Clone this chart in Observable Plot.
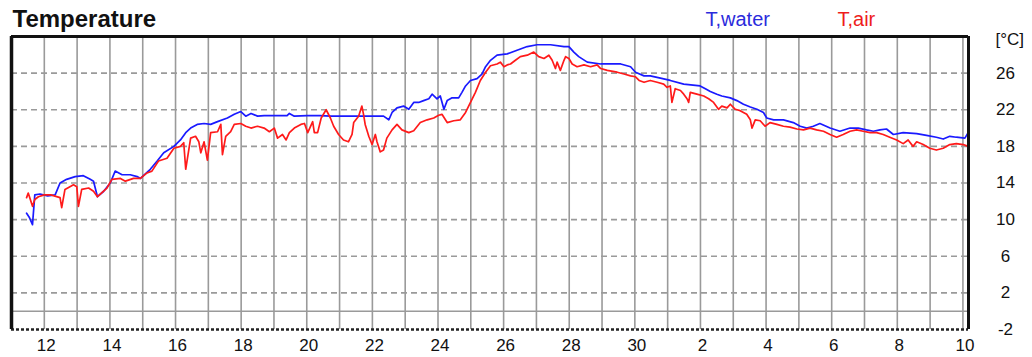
<!DOCTYPE html>
<html>
<head>
<meta charset="utf-8">
<script src="https://cdn.jsdelivr.net/npm/d3@7"></script>
<script src="https://cdn.jsdelivr.net/npm/@observablehq/plot@0.6"></script>
<style>
  html, body { margin: 0; padding: 0; background: #fff; }
  #chart { width: 1032px; height: 357px; }
</style>
</head>
<body>
<div id="chart"></div>
<script>
// Day numbers counted from June 1 (values above 30 continue into July)
const waterDay = [11.46,11.55,11.64,11.71,11.87,12.10,12.33,12.48,12.68,12.94,13.19,13.40,13.50,13.62,13.81,14.01,14.16,14.37,14.62,14.83,14.93,15.23,15.44,15.64,15.95,16.15,16.31,16.46,16.66,16.87,17.07,17.28,17.58,17.79,17.99,18.14,18.30,18.50,18.70,19.00,19.40,19.47,19.62,20.00,20.40,20.74,21.00,21.50,22.00,22.34,22.50,22.60,22.75,22.95,23.11,23.26,23.41,23.56,23.72,23.82,23.97,24.07,24.18,24.28,24.43,24.63,24.73,24.84,24.99,25.19,25.34,25.45,25.60,25.80,26.11,26.41,26.72,27.02,27.43,27.84,27.99,28.14,28.29,28.55,28.96,29.57,29.87,30.02,30.28,30.47,30.78,31.08,31.49,31.99,32.15,32.30,32.50,32.65,32.91,33.11,33.31,33.52,33.72,33.92,34.02,34.23,34.53,34.83,35.04,35.24,35.44,35.64,35.95,36.25,36.56,36.81,37.06,37.27,37.47,37.67,37.88,38.18,38.59,38.89,39.19,39.40,39.60,39.80,40.06,40.16];
const waterTemp = [10.7,10.2,9.45,12.7,12.8,12.6,12.7,14.0,14.4,14.7,14.8,14.4,14.2,12.5,13.1,14.0,15.3,14.9,14.9,14.7,14.5,15.5,16.4,17.3,18.0,18.7,19.5,20.0,20.4,20.5,20.4,20.7,21.1,21.5,21.8,21.3,21.6,21.3,21.35,21.35,21.35,21.6,21.3,21.35,21.35,21.3,21.3,21.3,21.3,21.3,20.9,21.7,22.2,22.4,22.05,22.8,22.8,23.0,23.2,23.7,23.2,23.5,22.05,23.0,23.3,23.3,23.9,24.6,25.2,25.4,25.9,26.7,27.4,27.96,28.1,28.5,28.9,29.1,29.1,28.9,28.9,28.3,27.8,27.2,27.0,27.0,26.7,26.1,25.7,25.7,25.45,25.2,24.8,24.6,24.3,24.0,23.7,23.5,23.3,23.0,22.6,22.3,22.05,21.7,21.1,20.9,20.9,20.6,20.2,20.0,20.2,20.5,20.0,19.65,20.0,20.0,19.8,19.65,19.8,19.9,19.3,19.5,19.4,19.2,19.0,18.8,19.1,19.0,18.9,19.5];

const airDay = [11.46,11.51,11.64,11.71,11.82,12.00,12.20,12.48,12.53,12.63,12.89,12.99,13.04,13.14,13.35,13.50,13.62,13.91,14.06,14.32,14.47,14.72,14.93,15.13,15.28,15.48,15.74,15.95,16.15,16.25,16.31,16.46,16.61,16.71,16.77,16.87,16.97,17.07,17.28,17.38,17.43,17.53,17.68,17.79,17.99,18.14,18.30,18.50,18.70,18.86,19.01,19.11,19.26,19.37,19.47,19.62,19.82,19.93,20.03,20.18,20.23,20.33,20.44,20.59,20.72,20.82,20.97,21.12,21.27,21.38,21.43,21.58,21.68,21.73,21.78,21.89,21.99,22.09,22.14,22.24,22.34,22.44,22.60,22.75,22.90,23.11,23.26,23.46,23.67,23.87,24.02,24.12,24.28,24.48,24.68,24.84,24.99,25.14,25.29,25.45,25.60,25.80,25.90,26.01,26.11,26.21,26.36,26.51,26.72,26.92,27.07,27.23,27.38,27.48,27.58,27.63,27.73,27.84,27.89,27.99,28.09,28.24,28.45,28.65,28.85,28.96,29.16,29.46,29.67,29.87,30.02,30.13,30.28,30.47,30.68,30.88,30.98,31.08,31.13,31.23,31.39,31.49,31.59,31.64,31.69,31.89,32.10,32.25,32.40,32.55,32.65,32.81,32.91,33.06,33.21,33.41,33.52,33.57,33.67,33.82,33.97,34.12,34.33,34.53,34.73,34.94,35.14,35.34,35.54,35.75,35.95,36.15,36.35,36.56,36.76,36.96,37.17,37.37,37.57,37.77,37.98,38.18,38.33,38.48,38.59,38.79,38.99,39.19,39.40,39.60,39.80,40.01,40.16];
const airTemp = [12.4,12.9,11.45,12.2,12.5,12.7,12.7,12.4,11.3,13.3,13.8,13.6,11.45,13.3,13.45,13.1,12.5,13.45,14.4,14.5,14.2,14.5,14.5,15.1,15.3,16.4,16.7,17.8,18.0,18.4,15.5,18.9,19.1,18.5,17.3,18.5,16.5,19.5,19.6,20.4,17.1,19.1,19.6,20.4,20.5,20.2,20.0,20.2,20.0,19.6,20.0,18.9,19.3,18.7,19.5,20.0,20.4,20.5,19.5,20.7,19.5,19.5,21.1,22.0,21.1,20.2,19.3,18.7,18.5,19.3,20.6,21.3,22.4,21.5,20.4,19.1,18.2,19.3,18.5,17.4,17.6,18.9,19.8,20.4,19.8,19.5,19.7,20.6,20.9,21.1,21.4,21.5,20.6,20.8,20.9,21.7,22.8,23.9,25.2,26.1,26.8,27.0,27.2,26.7,26.9,27.0,27.4,27.8,27.96,28.3,27.8,27.6,27.96,27.4,26.5,27.2,26.3,27.4,27.8,27.6,27.0,26.7,26.9,26.7,26.9,26.5,26.3,26.1,25.9,25.7,25.6,25.2,25.0,25.2,25.0,24.8,24.45,24.6,22.8,24.3,24.1,23.7,23.2,22.8,23.9,23.7,23.5,23.2,22.8,22.05,22.4,22.2,22.6,22.05,21.9,21.5,20.9,20.0,20.9,20.8,20.2,20.6,20.4,20.2,20.1,19.9,19.8,20.0,19.8,19.65,19.3,19.0,19.3,19.65,19.8,19.65,19.5,19.5,19.3,19.0,18.7,18.3,18.7,18.0,18.5,18.2,17.8,17.6,17.8,18.2,18.3,18.2,18.0];

const yTickValues = [-2, 2, 6, 10, 14, 18, 22, 26];
const xLabelDays = [12,14,16,18,20,22,24,26,28,30,32,34,36,38,40];
const seriesNames = ["T,water", "T,air"];
const titleText = "Temperature";
const unitText = "[°C]";

const base = Date.UTC(2020, 5, 1);
const toDate = d => new Date(base + (d - 1) * 864e5);

const water = waterDay.map((d, i) => ({date: toDate(d), temp: waterTemp[i]}));
const air = airDay.map((d, i) => ({date: toDate(d), temp: airTemp[i]}));

const xDomain = [toDate(11), toDate(40.17)];
const gridDays = d3.utcDay.range(toDate(12), toDate(40.5));
const xLabelTicks = xLabelDays.map(toDate);

const FONT = "'Liberation Sans', Arial, Helvetica, sans-serif";
const BLUE = "#1a1aff";
const RED = "#ff1a1a";

const chart = Plot.plot({
  width: 1032,
  height: 357,
  marginTop: 36,
  marginBottom: 28,
  marginLeft: 11,
  marginRight: 64,
  style: {fontFamily: FONT, fontSize: "17px", background: "#fff", color: "#111"},
  x: {type: "utc", domain: xDomain},
  y: {domain: [-2, 30]},
  marks: [
    Plot.gridX(gridDays, {stroke: "#9a9a9a", strokeOpacity: 1, strokeWidth: 1.6}),
    Plot.gridY(yTickValues.filter(v => v > -2), {stroke: "#9a9a9a", strokeOpacity: 1, strokeWidth: 1.6, strokeDasharray: "6,4"}),
    Plot.ruleY([0], {stroke: "#9a9a9a", strokeWidth: 1.6}),
    Plot.line(water, {x: "date", y: "temp", stroke: BLUE, strokeWidth: 1.7}),
    Plot.line(air, {x: "date", y: "temp", stroke: RED, strokeWidth: 1.7}),
    Plot.ruleY([30], {stroke: "#111", strokeWidth: 3}),
    Plot.ruleY([-2], {stroke: "#222", strokeWidth: 2.5, strokeDasharray: "3,2"}),
    Plot.ruleX([xDomain[0]], {stroke: "#111", strokeWidth: 3.5}),
    Plot.ruleX([xDomain[1]], {stroke: "#111", strokeWidth: 3}),
    Plot.axisX(xLabelTicks, {tickSize: 0, tickPadding: 9, dx: 2, tickFormat: d3.utcFormat("%-d"), label: null, fontSize: 17, fill: "#111"}),
    Plot.axisY(yTickValues, {anchor: "right", tickSize: 0, tickPadding: 37, textAnchor: "middle", tickFormat: d => String(d), label: null, fontSize: 17, fill: "#111"}),
    Plot.text([titleText], {frameAnchor: "top-left", lineAnchor: "middle", text: d => d, dx: 1, dy: -17, textAnchor: "start", fontWeight: "bold", fontSize: 24, fill: "#111"}),
    Plot.text([seriesNames[0]], {frameAnchor: "top-left", lineAnchor: "middle", text: d => d, dx: 694, dy: -17, textAnchor: "start", fontSize: 20, fill: "#2b2bdc"}),
    Plot.text([seriesNames[1]], {frameAnchor: "top-left", lineAnchor: "middle", text: d => d, dx: 826, dy: -17, textAnchor: "start", fontSize: 20, fill: "#ee1c1c"}),
    Plot.text([unitText], {frameAnchor: "top-right", lineAnchor: "middle", text: d => d, dx: 27, dy: 3, textAnchor: "start", fontSize: 17, fill: "#111"})
  ]
});
document.getElementById("chart").appendChild(chart);
</script>
</body>
</html>
